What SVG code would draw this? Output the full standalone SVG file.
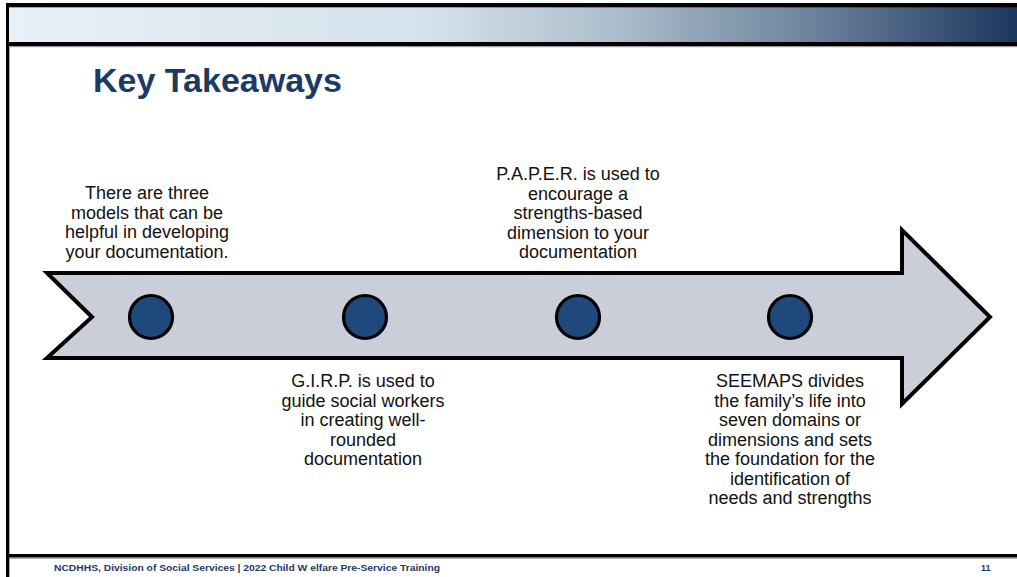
<svg xmlns="http://www.w3.org/2000/svg" width="1017" height="577" viewBox="0 0 1017 577">
<defs>
<linearGradient id="band" x1="0" y1="0" x2="1" y2="0">
<stop offset="0" stop-color="#eaf0f7"/>
<stop offset="0.42" stop-color="#d3e2eb"/>
<stop offset="0.6" stop-color="#adbecc"/>
<stop offset="0.8" stop-color="#6c829c"/>
<stop offset="1" stop-color="#1c375e"/>
</linearGradient>
<style>
.lbl{font-family:"Liberation Sans",Arial,sans-serif;font-size:18px;fill:#111;text-anchor:middle}
.dot{fill:#1f487b;stroke:#000;stroke-width:3.2}
.foot{font-family:"Liberation Sans",Arial,sans-serif;font-size:9px;font-weight:bold;fill:#1f3864}
</style>
</defs>
<rect width="1017" height="577" fill="#fff"/>
<g id="frame">
<rect x="6" y="7" width="1011" height="35" fill="url(#band)"/>
<rect x="6" y="3" width="1011" height="4.3" fill="#000"/>
<rect x="6" y="42" width="1011" height="4" fill="#000"/>
<rect x="9" y="46" width="1008" height="1.2" fill="#9a9a9a"/>
<rect x="6" y="3" width="3" height="574" fill="#000"/>
<rect x="9" y="47" width="1" height="530" fill="#aaa"/>
<rect x="6" y="554" width="1011" height="3.6" fill="#000"/>
<rect x="9" y="557.6" width="1008" height="1.2" fill="#9a9a9a"/>
</g>
<text x="93" y="92" font-family="'Liberation Sans',Arial,sans-serif" font-size="34" font-weight="bold" fill="#1c3a63">Key Takeaways</text>
<g id="arrow">
<polygon points="47,273 902,273 902,230 990,317 902,404 902,358 47,358 92,317" fill="#cbced8" stroke="#000" stroke-width="4" stroke-linejoin="miter"/>
</g>
<g id="node1">
<circle class="dot" cx="151" cy="317" r="21.5"/>
<text class="lbl"><tspan x="147" y="199">There are three</tspan><tspan x="147" y="218.7">models that can be</tspan><tspan x="147" y="238.4">helpful in developing</tspan><tspan x="147" y="258">your documentation.</tspan></text>
</g>
<g id="node2">
<circle class="dot" cx="365" cy="317" r="21.5"/>
<text class="lbl"><tspan x="363" y="387">G.I.R.P. is used to</tspan><tspan x="363" y="406.5">guide social workers</tspan><tspan x="363" y="426">in creating well-</tspan><tspan x="363" y="445.5">rounded</tspan><tspan x="363" y="465">documentation</tspan></text>
</g>
<g id="node3">
<circle class="dot" cx="578" cy="317" r="21.5"/>
<text class="lbl"><tspan x="578" y="180">P.A.P.E.R. is used to</tspan><tspan x="578" y="199.5">encourage a</tspan><tspan x="578" y="219">strengths-based</tspan><tspan x="578" y="238.5">dimension to your</tspan><tspan x="578" y="258">documentation</tspan></text>
</g>
<g id="node4">
<circle class="dot" cx="790" cy="317" r="21.5"/>
<text class="lbl"><tspan x="790" y="387">SEEMAPS divides</tspan><tspan x="790" y="406.5">the family’s life into</tspan><tspan x="790" y="426">seven domains or</tspan><tspan x="790" y="445.5">dimensions and sets</tspan><tspan x="790" y="465">the foundation for the</tspan><tspan x="790" y="484.5">identification of</tspan><tspan x="790" y="504">needs and strengths</tspan></text>
</g>
<g id="connectors"></g>
<text class="foot" x="54" y="571" textLength="386" lengthAdjust="spacingAndGlyphs">NCDHHS, Division of Social Services | 2022 Child W elfare Pre-Service Training</text>
<text class="foot" x="981" y="571" fill="#3a5a80">11</text>
</svg>
